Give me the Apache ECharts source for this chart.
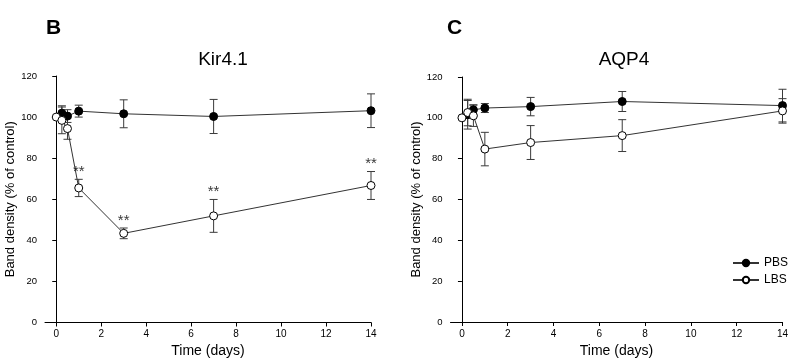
<!DOCTYPE html>
<html>
<head>
<meta charset="utf-8">
<script src="https://cdn.jsdelivr.net/npm/echarts@6/dist/echarts.min.js"></script>
<style>html,body{margin:0;padding:0;background:#fff}#c{width:800px;height:364px}</style>
</head>
<body>
<div id="c"></div>
<script>
// ---- data ----
const xTicks = [0, 2, 4, 6, 8, 10, 12, 14];
const timesPBS = [0.25, 0.5, 1, 3, 7, 14];
const timesLBS = [0, 0.25, 0.5, 1, 3, 7, 14];

const kirPBS = [101.9, 100.5, 102.9, 101.6, 100.3, 103.1];
const kirPBSErr = [3.6, 3.1, 2.9, 6.8, 8.3, 8.2];
const kirLBS = [100, 98.4, 94.4, 65.5, 43.4, 51.9, 66.7];
const kirLBSErr = [0, 6.5, 5.2, 4.2, 2.6, 8.0, 6.8];
const kirSig = [0, 0, 0, 1, 1, 1, 1];

const aqpPBS = [101.5, 103.9, 104.8, 105.5, 108.0, 106.0];
const aqpPBSErr = [7.0, 2.5, 2.2, 4.5, 4.9, 8.0];
const aqpLBS = [100, 102.6, 101.0, 84.7, 87.9, 91.3, 103.4];
const aqpLBSErr = [0, 6.5, 5.2, 8.2, 8.3, 7.8, 6.0];

const FONT = 'Liberation Sans, Arial, sans-serif';

function pts(xs, ys) { return xs.map((x, i) => [x, ys[i]]); }
function errData(xs, ys, es) {
  const out = [];
  xs.forEach((x, i) => { if (es[i] > 0) out.push([x, ys[i] - es[i], ys[i] + es[i]]); });
  return out;
}
function renderErr(params, api) {
  const x = api.value(0);
  const lo = api.coord([x, api.value(1)]);
  const hi = api.coord([x, api.value(2)]);
  const w = 4;
  const st = { stroke: '#3a3a3a', lineWidth: 1 };
  return {
    type: 'group',
    children: [
      { type: 'line', shape: { x1: lo[0], y1: lo[1], x2: hi[0], y2: hi[1] }, style: st },
      { type: 'line', shape: { x1: hi[0] - w, y1: hi[1], x2: hi[0] + w, y2: hi[1] }, style: st },
      { type: 'line', shape: { x1: lo[0] - w, y1: lo[1], x2: lo[0] + w, y2: lo[1] }, style: st }
    ]
  };
}

function xAxis(gi) {
  return {
    gridIndex: gi, type: 'value', min: -0.5, max: 14,
    name: 'Time (days)', nameLocation: 'middle', nameGap: 16,
    nameTextStyle: { fontFamily: FONT, fontSize: 14, color: '#000' },
    axisLine: { onZero: false, lineStyle: { color: '#000', width: 1 } },
    axisTick: { show: true, length: 4, inside: false, customValues: xTicks, lineStyle: { color: '#000' } },
    axisLabel: { customValues: xTicks, margin: 7, fontFamily: FONT, fontSize: 10, color: '#000' },
    splitLine: { show: false }
  };
}
function yAxis(gi) {
  return {
    gridIndex: gi, type: 'value', min: 0, max: 120, interval: 20,
    name: 'Band density (% of control)', nameLocation: 'middle', nameGap: 28,
    nameTextStyle: { fontFamily: FONT, fontSize: 13, color: '#000' },
    axisLine: { show: true, lineStyle: { color: '#000', width: 1 } },
    axisTick: { show: true, length: 4, inside: false, lineStyle: { color: '#000' } },
    axisLabel: { margin: 8, fontFamily: FONT, fontSize: 9.5, color: '#000' },
    splitLine: { show: false }
  };
}
function lineSeries(name, gi, data, filled) {
  return {
    name, type: 'line', xAxisIndex: gi, yAxisIndex: gi, data,
    symbol: 'circle', symbolSize: 8, showSymbol: true,
    lineStyle: { color: '#333', width: 1 },
    itemStyle: filled ? { color: '#000', borderColor: '#000', borderWidth: 1 }
                      : { color: '#fff', borderColor: '#000', borderWidth: 1 },
    z: 3, animation: false
  };
}
function errSeries(gi, data) {
  return { type: 'custom', xAxisIndex: gi, yAxisIndex: gi, data, renderItem: renderErr, z: 2, animation: false, silent: true };
}

const sigData = [];
timesLBS.forEach((x, i) => { if (kirSig[i]) sigData.push([x, kirLBS[i] + kirLBSErr[i]]); });

const option = {
  backgroundColor: '#fff',
  animation: false,
  textStyle: { fontFamily: FONT },
  title: [
    { text: 'B', left: 41, top: 13, textStyle: { fontFamily: FONT, fontSize: 21, fontWeight: 'bold', color: '#000' } },
    { text: 'C', left: 442, top: 13, textStyle: { fontFamily: FONT, fontSize: 21, fontWeight: 'bold', color: '#000' } },
    { text: 'Kir4.1', left: 218, top: 45, textAlign: 'center', textStyle: { fontFamily: FONT, fontSize: 19, fontWeight: 'normal', color: '#000' } },
    { text: 'AQP4', left: 619, top: 45, textAlign: 'center', textStyle: { fontFamily: FONT, fontSize: 19, fontWeight: 'normal', color: '#000' } }
  ],
  legend: {
    data: ['PBS', 'LBS'], orient: 'vertical', left: 727, top: 252,
    itemWidth: 26, itemHeight: 8, itemGap: 5,
    textStyle: { fontFamily: FONT, fontSize: 12, color: '#000' }
  },
  grid: [
    { left: 45, right: 429, top: 76, bottom: 41.5 },
    { left: 450.5, right: 17.5, top: 77, bottom: 42 }
  ],
  xAxis: [xAxis(0), xAxis(1)],
  yAxis: [yAxis(0), yAxis(1)],
  series: [
    errSeries(0, errData(timesPBS, kirPBS, kirPBSErr)),
    errSeries(0, errData(timesLBS, kirLBS, kirLBSErr)),
    lineSeries('PBS', 0, pts(timesPBS, kirPBS), true),
    lineSeries('LBS', 0, pts(timesLBS, kirLBS), false),
    {
      type: 'scatter', xAxisIndex: 0, yAxisIndex: 0, data: sigData, symbolSize: 0, silent: true,
      label: { show: true, position: 'top', distance: 0, formatter: '**', fontFamily: FONT, fontSize: 15, color: '#000' },
      z: 4
    },
    errSeries(1, errData(timesPBS, aqpPBS, aqpPBSErr)),
    errSeries(1, errData(timesLBS, aqpLBS, aqpLBSErr)),
    lineSeries('PBS', 1, pts(timesPBS, aqpPBS), true),
    lineSeries('LBS', 1, pts(timesLBS, aqpLBS), false)
  ]
};
const chart = echarts.init(document.getElementById('c'), null, { renderer: 'canvas' });
chart.setOption(option);
</script>
</body>
</html>
